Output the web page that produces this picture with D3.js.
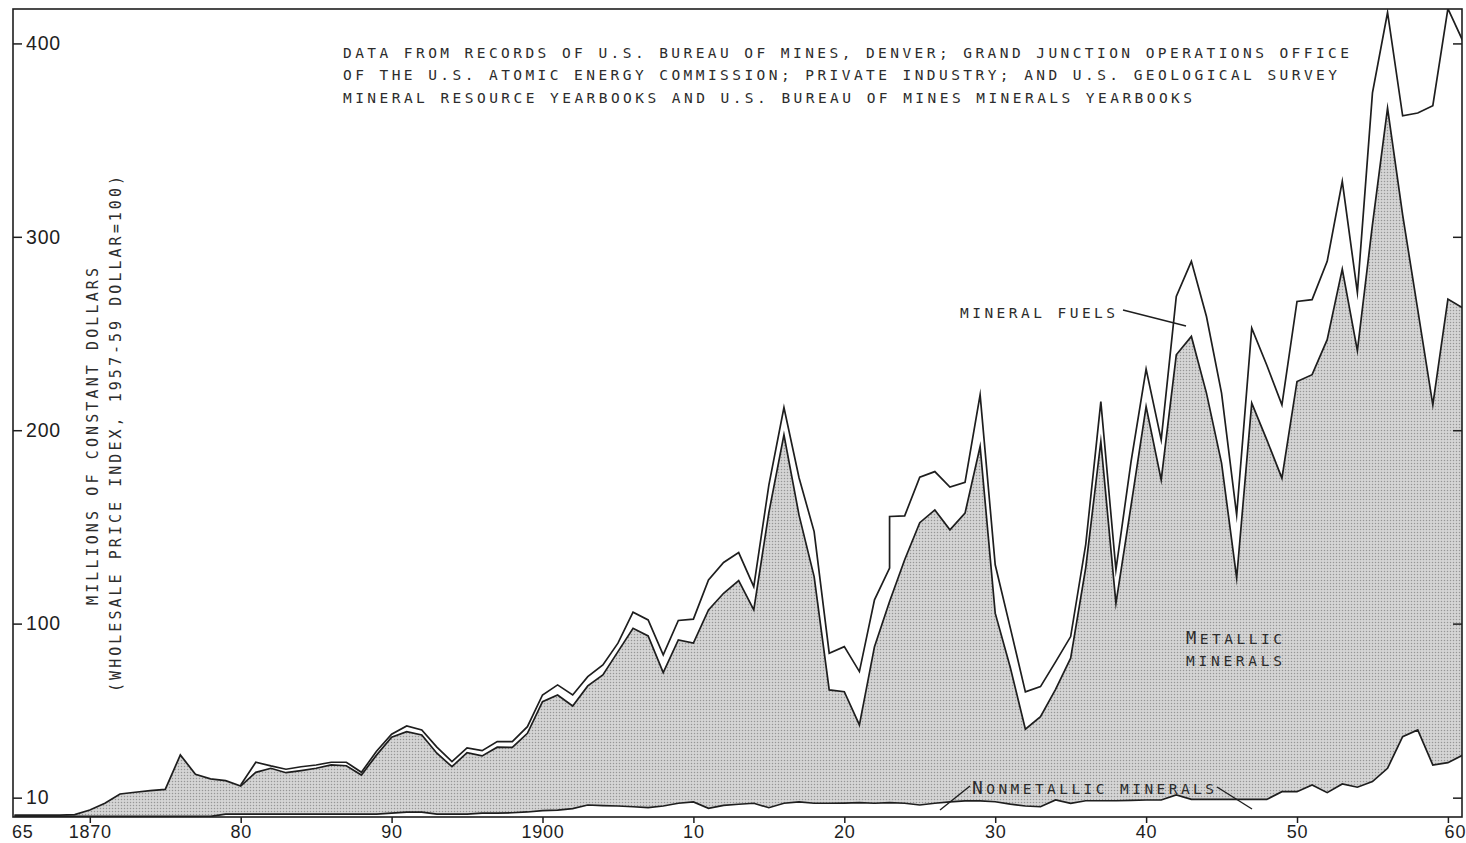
<!DOCTYPE html>
<html>
<head>
<meta charset="utf-8">
<script src="https://cdn.jsdelivr.net/npm/d3@7"></script>
<style>
  html, body { margin: 0; padding: 0; background: #ffffff; }
  svg { display: block; }
</style>
</head>
<body>
<svg id="chart" width="1466" height="843"></svg>
<script>
// ---------------- DATA (millions of constant dollars) ----------------
const years = [
  1865,1866,1867,1868,1869,1870,1871,1872,1873,1874,1875,1876,1877,1878,1879,
  1880,1881,1882,1883,1884,1885,1886,1887,1888,1889,
  1890,1891,1892,1893,1894,1895,1896,1897,1898,1899,
  1900,1901,1902,1903,1904,1905,1906,1907,1908,1909,
  1910,1911,1912,1913,1914,1915,1916,1917,1918,1919,
  1920,1921,1922,1923,1923,1924,1925,1926,1927,1928,1929,
  1930,1931,1932,1933,1934,1935,1936,1937,1938,1939,
  1940,1941,1942,1943,1944,1945,1946,1947,1948,1949,
  1950,1951,1952,1953,1954,1955,1956,1957,1958,1959,
  1960,1961
];
const nonmetallic = [
  0.3,0.3,0.3,0.3,0.3,0.3,0.3,0.3,0.3,0.3,0.3,0.3,0.3,0.3,1.5,
  1.5,1.5,1.5,1.5,1.5,1.5,1.5,1.5,1.5,1.5,
  2.0,2.5,2.5,1.5,1.5,1.5,2.0,2.0,2.2,2.6,
  3.3,3.6,4.3,6.2,5.9,5.7,5.3,4.8,5.7,7.1,
  7.8,4.5,6.0,6.6,7.1,4.8,7.1,7.8,7.1,7.1,
  7.2,7.4,7.1,7.4,7.4,7.1,6.2,7.1,7.8,8.3,8.3,
  7.9,6.7,5.7,5.3,8.8,7.1,8.4,8.4,8.4,8.6,
  8.8,8.8,11.4,9.1,9.1,9.1,9.1,9.1,9.1,13.1,
  13.1,16.6,12.6,17.1,15.4,18.3,25.2,41.5,45.0,26.9,
  28.1,32.1
];
const metallic = [
  0.7,0.7,0.7,0.7,0.9,3.3,6.8,11.6,12.5,13.3,14.0,31.8,21.8,19.4,17.3,
  14.5,21.6,23.7,21.4,22.5,23.7,25.4,25.0,20.2,30.5,
  39.2,41.6,39.9,31.5,24.5,31.8,29.6,34.1,33.8,40.7,
  56.3,59.5,53.1,61.6,67.6,79.8,92.3,88.8,69.0,84.5,
  82.1,102.6,109.7,115.6,100.0,152.6,190.5,148.3,117.2,58.6,
  57.6,40.2,81.0,104.0,104.0,125.9,146.0,151.7,140.7,148.8,183.3,
  97.5,70.6,39.7,46.6,57.2,75.0,120.6,185.8,102.1,152.3,
  203.4,165.5,227.6,239.4,210.1,173.9,114.5,204.9,185.9,162.1,
  212.1,212.1,234.2,266.2,225.8,288.0,341.4,269.9,217.3,186.2,
  239.7,231.1
];
const fuels = [
  0,0,0,0,0,0,0,0,0,0,0,0,0,0,0,
  0.5,5.2,1.2,1.8,2.0,1.7,1.4,1.8,1.4,2.0,
  1.6,3.0,2.6,3.1,2.6,2.4,2.7,2.9,3.0,3.4,
  3.5,5.2,5.7,4.8,5.1,4.4,8.3,8.3,9.1,10.0,
  12.4,15.5,15.9,14.5,12.0,14.2,14.1,19.3,23.3,19.0,
  23.3,27.6,24.2,17.3,44.0,22.7,23.5,19.8,22.1,15.9,26.7,
  25.0,20.5,19.3,15.5,14.2,11.2,12.0,20.6,17.3,22.7,
  19.4,20.7,30.2,38.8,39.6,36.2,32.6,38.8,38.6,37.9,
  41.4,38.8,40.5,45.4,30.1,68.1,49.4,51.2,101.7,154.7,
  150.2,137.9
];
const seriesKeys = ["nonmetallic", "metallic", "fuels"];

const yTickValues = [10, 100, 200, 300, 400];
const yTickLabels = ["10", "100", "200", "300", "400"];
const xTickYears  = [1865, 1870, 1880, 1890, 1900, 1910, 1920, 1930, 1940, 1950, 1960];
const xTickLabels = ["65", "1870", "80", "90", "1900", "10", "20", "30", "40", "50", "60"];

const sourceNote = [
  "DATA FROM RECORDS OF U.S. BUREAU OF MINES, DENVER; GRAND JUNCTION OPERATIONS OFFICE",
  "OF THE U.S. ATOMIC ENERGY COMMISSION; PRIVATE INDUSTRY; AND U.S. GEOLOGICAL SURVEY",
  "MINERAL RESOURCE YEARBOOKS AND U.S. BUREAU OF MINES MINERALS YEARBOOKS"
];
const yTitle = ["MILLIONS OF CONSTANT DOLLARS", "(WHOLESALE PRICE INDEX, 1957-59 DOLLAR=100)"];

// ---------------- LAYOUT ----------------
const svg = d3.select("#chart");
const plot = { left: 13, top: 9, right: 1462, bottom: 817 };
const INK = "#1e1e1e";
const TXT = "#2c2c2c";
const numFont = "'Liberation Sans', Arial, sans-serif";
const letterFont = "'DejaVu Sans Mono', 'Liberation Mono', monospace";

const x = d3.scaleLinear().domain([1865, 1961]).range([14.35, 1463.0]);
const y = d3.scaleLinear().domain([0, 417.8]).range([plot.bottom, plot.top]);

const rows = years.map((yr, i) => ({
  year: yr, nonmetallic: nonmetallic[i], metallic: metallic[i], fuels: fuels[i]
}));
const stacked = d3.stack().keys(seriesKeys)(rows);

// defs: stipple pattern + clip
const defs = svg.append("defs");
const pat = defs.append("pattern").attr("id", "stipple")
  .attr("width", 3).attr("height", 3).attr("patternUnits", "userSpaceOnUse");
pat.append("rect").attr("width", 3).attr("height", 3).attr("fill", "#d5d5d5");
pat.append("circle").attr("cx", 1.5).attr("cy", 1.5).attr("r", 0.75).attr("fill", "#969696");
defs.append("clipPath").attr("id", "plotclip").append("rect")
  .attr("x", plot.left).attr("y", plot.top)
  .attr("width", plot.right - plot.left).attr("height", plot.bottom - plot.top);

const g = svg.append("g").attr("clip-path", "url(#plotclip)");

// metallic band shaded
const area = d3.area()
  .x(d => x(d.data.year))
  .y0(d => y(d[0]))
  .y1(d => y(d[1]));
g.append("path").datum(stacked[1]).attr("d", area)
  .attr("fill", "url(#stipple)").attr("stroke", "none");

// boundary lines
const line = d3.line().x(d => x(d.data.year)).y(d => y(d[1]));
stacked.forEach((s) => {
  let pts = s;
  if (s.key === "fuels") pts = s.filter(d => d.data.year >= 1880);
  g.append("path").datum(pts).attr("d", line)
    .attr("fill", "none").attr("stroke", INK)
    .attr("stroke-width", 1.7).attr("stroke-linejoin", "miter").attr("stroke-miterlimit", 10);
});

// ---------------- AXES ----------------
const yLeft = svg.append("g").attr("transform", `translate(${plot.left},0)`)
  .call(d3.axisRight(y).tickValues(yTickValues).tickSize(9).tickPadding(4)
    .tickFormat((d, i) => yTickLabels[i]));
yLeft.select(".domain").remove();
yLeft.selectAll("line").attr("stroke", INK).attr("stroke-width", 1.5);
yLeft.selectAll("text").attr("font-family", numFont).attr("font-size", 19.5)
  .attr("fill", INK).attr("letter-spacing", 0.8);

const yRight = svg.append("g").attr("transform", `translate(${plot.right},0)`)
  .call(d3.axisLeft(y).tickValues(yTickValues).tickSize(9).tickFormat(""));
yRight.select(".domain").remove();
yRight.selectAll("line").attr("stroke", INK).attr("stroke-width", 1.5);

const xAxis = svg.append("g").attr("transform", `translate(0,${plot.bottom})`)
  .call(d3.axisBottom(x).tickValues(xTickYears).tickSize(6).tickPadding(2)
    .tickFormat((d, i) => xTickLabels[i]));
xAxis.select(".domain").remove();
xAxis.selectAll("line").attr("stroke", INK).attr("stroke-width", 1.5);
xAxis.selectAll("text").attr("font-family", numFont).attr("font-size", 18)
  .attr("fill", INK).attr("letter-spacing", 0.8);
xAxis.selectAll(".tick").filter(d => d === 1865).select("line").remove();
xAxis.selectAll(".tick").filter(d => d === 1865).select("text").attr("dx", 8);
xAxis.selectAll(".tick").filter(d => d === 1960).select("text").attr("dx", 7);

// frame
svg.append("rect")
  .attr("x", plot.left).attr("y", plot.top)
  .attr("width", plot.right - plot.left).attr("height", plot.bottom - plot.top)
  .attr("fill", "none").attr("stroke", INK).attr("stroke-width", 1.6);

// ---------------- TEXT ----------------
// Y title (rotated)
const yTitlePos = [
  { x: 98, y: 605, len: 337 },
  { x: 121, y: 692, len: 516 }
];
yTitle.forEach((t, i) => {
  svg.append("text")
    .attr("transform", `translate(${yTitlePos[i].x},${yTitlePos[i].y}) rotate(-90)`)
    .attr("font-family", letterFont).attr("font-size", 15).attr("fill", TXT)
    .attr("textLength", yTitlePos[i].len).attr("lengthAdjust", "spacing")
    .text(t);
});

// source note
const noteLen = [1006, 994, 849];
sourceNote.forEach((t, i) => {
  svg.append("text")
    .attr("x", 343).attr("y", 57.5 + i * 22.5)
    .attr("font-family", letterFont).attr("font-size", 14.5).attr("fill", TXT)
    .attr("textLength", noteLen[i]).attr("lengthAdjust", "spacing")
    .text(t);
});

// MINERAL FUELS label + leader
svg.append("text").attr("x", 960).attr("y", 317.5)
  .attr("font-family", letterFont).attr("font-size", 14.5).attr("fill", TXT)
  .attr("textLength", 155).attr("lengthAdjust", "spacing")
  .text("MINERAL FUELS");
svg.append("line").attr("x1", 1123).attr("y1", 310).attr("x2", 1186).attr("y2", 326)
  .attr("stroke", INK).attr("stroke-width", 1.4);

// labels with first letter larger
function bigFirst(xp, yp, first, rest, len, big, small) {
  const t = svg.append("text").attr("x", xp).attr("y", yp)
    .attr("font-family", letterFont).attr("fill", TXT)
    .attr("textLength", len).attr("lengthAdjust", "spacing");
  t.append("tspan").attr("font-size", big).text(first);
  t.append("tspan").attr("font-size", small).text(rest);
  return t;
}
bigFirst(1186, 643.5, "M", "ETALLIC", 96, 17, 14.5);
svg.append("text").attr("x", 1186).attr("y", 665.5)
  .attr("font-family", letterFont).attr("font-size", 14.5).attr("fill", TXT)
  .attr("textLength", 96).attr("lengthAdjust", "spacing").text("MINERALS");

// NONMETALLIC MINERALS label + leaders
bigFirst(972, 793.5, "N", "ONMETALLIC MINERALS", 242, 18, 14.5);
svg.append("line").attr("x1", 940).attr("y1", 810).attr("x2", 970).attr("y2", 786)
  .attr("stroke", INK).attr("stroke-width", 1.4);
svg.append("line").attr("x1", 1217).attr("y1", 787).attr("x2", 1252).attr("y2", 809)
  .attr("stroke", INK).attr("stroke-width", 1.4);
</script>
</body>
</html>
